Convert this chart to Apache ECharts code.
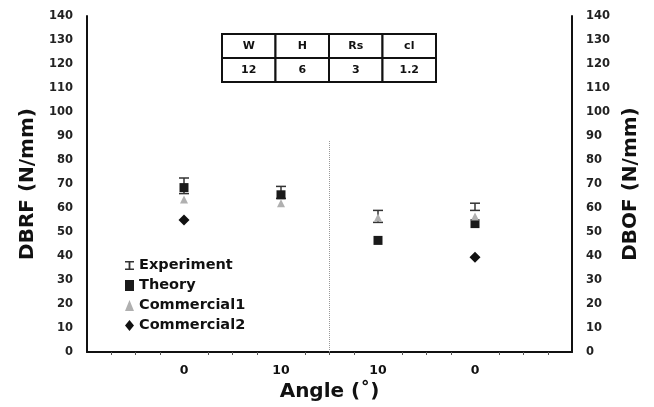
<!DOCTYPE html>
<html>
<head>
<meta charset="utf-8">
<script src="https://cdn.jsdelivr.net/npm/echarts@6/dist/echarts.min.js"></script>
<style>
  html, body { margin: 0; padding: 0; background: #fff; }
  #chart-holder { width: 654px; height: 407px; }
</style>
</head>
<body>
<div id="chart-holder"></div>
<script>
// x slots 1..4 carry the four cases, slots 0 and 5 are empty padding
var angleLabels = ['', '0', '10', '10', '0', ''];
var caseIndex = [1, 2, 3, 4];

var expLow = [66, 64, 54, 59];
var expHigh = [72.5, 69, 59, 62];
var theory = [68.5, 65.5, 46.5, 53.5];
var commercial1 = [63.5, 62, 56, 56.5];
var commercial2 = [55, null, null, 39.5];

var tableHead = ['W', 'H', 'Rs', 'cl'];
var tableVals = ['12', '6', '3', '1.2'];

var fontName = 'DejaVu Sans';

var dom = document.getElementById('chart-holder');
var myChart = echarts.init(dom, null, { renderer: 'canvas' });

function pairs(vals) {
  return caseIndex.map(function (x, i) {
    return [x, vals[i]];
  });
}

// table in the upper middle of the plot
var tableGraphic = [];
var cellW = 53.5, cellH = 24, tableX = 222, tableY = 34;
tableHead.forEach(function (h, i) {
  [h, tableVals[i]].forEach(function (txt, r) {
    tableGraphic.push({
      type: 'rect',
      shape: { x: tableX + i * cellW, y: tableY + r * cellH, width: cellW, height: cellH },
      style: { fill: '#fff', stroke: '#111', lineWidth: 2 },
    });
    tableGraphic.push({
      type: 'text',
      x: tableX + i * cellW + cellW / 2,
      y: tableY + r * cellH + cellH / 2,
      style: {
        text: txt,
        fontFamily: fontName,
        fontWeight: 'bold',
        fontSize: 11,
        fill: '#111',
        align: 'center',
        verticalAlign: 'middle',
      },
    });
  });
});

var errIcon = 'path://M0,0 H10 V1.6 H6 V8.4 H10 V10 H0 V8.4 H4 V1.6 H0 Z';

var axisLabelStyle = {
  fontFamily: fontName,
  fontWeight: 'bold',
  fontSize: 11.5,
  color: '#222',
};
var axisNameStyle = {
  fontFamily: fontName,
  fontWeight: 'bold',
  fontSize: 20,
  color: '#111',
};

var option = {
  backgroundColor: '#fff',
  animation: false,
  grid: { left: 87, right: 82, top: 16, bottom: 55 },
  legend: {
    orient: 'vertical',
    left: 120,
    top: 253,
    itemGap: 5,
    itemWidth: 9,
    itemHeight: 11,
    textStyle: { fontFamily: fontName, fontWeight: 'bold', fontSize: 14.5, color: '#111' },
    data: [
      { name: 'Experiment', icon: errIcon },
      { name: 'Theory', icon: 'rect' },
      { name: 'Commercial1', icon: 'triangle' },
      { name: 'Commercial2', icon: 'diamond' },
    ],
  },
  xAxis: {
    type: 'value',
    min: 0,
    max: 5,
    interval: 1,
    name: 'Angle (˚)',
    nameLocation: 'middle',
    nameGap: 30,
    nameTextStyle: axisNameStyle,
    splitLine: { show: false },
    axisLine: { lineStyle: { color: '#111', width: 2 } },
    axisTick: { show: false },
    minorTick: { show: true, splitNumber: 4, length: 3, lineStyle: { color: '#555' } },
    axisLabel: {
      margin: 12,
      fontFamily: fontName,
      fontWeight: 'bold',
      fontSize: 12.5,
      color: '#111',
      formatter: function (v) {
        return angleLabels[v] || '';
      },
    },
  },
  yAxis: [
    {
      type: 'value',
      min: 0,
      max: 140,
      interval: 10,
      name: 'DBRF (N/mm)',
      nameLocation: 'middle',
      nameGap: 46,
      nameTextStyle: axisNameStyle,
      splitLine: { show: false },
      axisLine: { show: true, lineStyle: { color: '#111', width: 2 } },
      axisTick: { show: false },
      axisLabel: Object.assign({ margin: 14 }, axisLabelStyle),
    },
    {
      type: 'value',
      min: 0,
      max: 140,
      interval: 10,
      position: 'right',
      name: 'DBOF (N/mm)',
      nameLocation: 'middle',
      nameGap: 46,
      nameTextStyle: axisNameStyle,
      splitLine: { show: false },
      axisLine: { show: true, lineStyle: { color: '#111', width: 2 } },
      axisTick: { show: false },
      axisLabel: Object.assign({ margin: 14 }, axisLabelStyle),
    },
  ],
  graphic: tableGraphic,
  series: [
    {
      name: 'Experiment',
      type: 'custom',
      color: '#333',
      data: caseIndex.map(function (x, i) {
        return [x, expLow[i], expHigh[i]];
      }),
      renderItem: function (params, api) {
        var lo = api.coord([api.value(0), api.value(1)]);
        var hi = api.coord([api.value(0), api.value(2)]);
        var half = 5;
        var st = { stroke: '#333', lineWidth: 1.5 };
        return {
          type: 'group',
          children: [
            { type: 'line', shape: { x1: lo[0], y1: lo[1], x2: hi[0], y2: hi[1] }, style: st },
            { type: 'line', shape: { x1: lo[0] - half, y1: lo[1], x2: lo[0] + half, y2: lo[1] }, style: st },
            { type: 'line', shape: { x1: hi[0] - half, y1: hi[1], x2: hi[0] + half, y2: hi[1] }, style: st },
          ],
        };
      },
      markLine: {
        silent: true,
        symbol: 'none',
        label: { show: false },
        lineStyle: { color: '#999', type: 'dotted', width: 1 },
        data: [[{ coord: [2.5, 0] }, { coord: [2.5, 88] }]],
      },
    },
    {
      name: 'Theory',
      type: 'scatter',
      symbol: 'rect',
      symbolSize: 9,
      itemStyle: { color: '#1a1a1a', opacity: 1 },
      data: pairs(theory),
    },
    {
      name: 'Commercial1',
      type: 'scatter',
      symbol: 'triangle',
      symbolSize: 8,
      itemStyle: { color: '#b0b0b0', opacity: 1 },
      data: pairs(commercial1),
    },
    {
      name: 'Commercial2',
      type: 'scatter',
      symbol: 'diamond',
      symbolSize: 11,
      itemStyle: { color: '#111', opacity: 1 },
      data: pairs(commercial2),
    },
  ],
};

myChart.setOption(option);
</script>
</body>
</html>
